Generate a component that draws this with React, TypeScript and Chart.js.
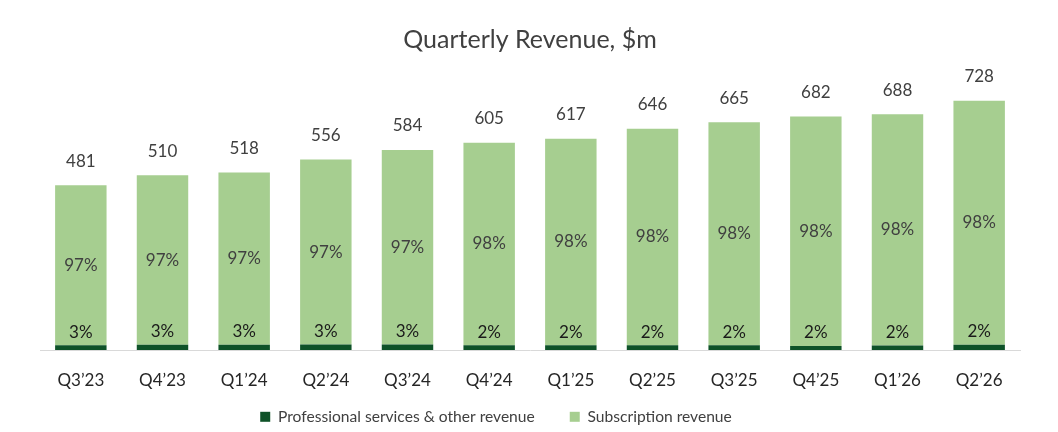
import React, { useEffect, useRef } from "react";
import { Chart, registerables } from "chart.js";

Chart.register(...registerables);

const categories = ["Q3\u201923", "Q4\u201923", "Q1\u201924", "Q2\u201924", "Q3\u201924", "Q4\u201924", "Q1\u201925", "Q2\u201925", "Q3\u201925", "Q4\u201925", "Q1\u201926", "Q2\u201926"];
const totalRevenue = [481, 510, 518, 556, 584, 605, 617, 646, 665, 682, 688, 728];
const professionalServices = [14, 15, 15, 16, 16, 14, 14, 14, 14, 12, 13, 15];
const subscription = totalRevenue.map((t, i) => t - professionalServices[i]);

const FONT = "Lato, 'Open Sans', sans-serif";
const DARK = "#0E5228";
const LIGHT = "#A6CE90";

const labelPlugin = {
  id: "barLabels",
  afterDatasetsDraw(chart: any) {
    const ctx = chart.ctx;
    const psMeta = chart.getDatasetMeta(0);
    const subMeta = chart.getDatasetMeta(1);
    ctx.save();
    ctx.textAlign = "center";
    ctx.textBaseline = "middle";
    categories.forEach((_, i) => {
      const total = totalRevenue[i];
      const ps = psMeta.data[i];
      const sub = subMeta.data[i];
      const psPct = Math.round((professionalServices[i] / total) * 100);
      const subPct = Math.round((subscription[i] / total) * 100);
      ctx.font = `17px ${FONT}`;
      ctx.fillStyle = "#404040";
      ctx.fillText(String(total), sub.x, sub.y - 24);
      ctx.fillText(subPct + "%", sub.x, (sub.y + sub.base) / 2);
      ctx.fillStyle = "#1a1a1a";
      ctx.fillText(psPct + "%", ps.x, ps.y - 13);
    });
    ctx.restore();
  },
};

const layoutTweak = {
  id: "layoutTweak",
  afterLayout(chart: any) {
    const lg = chart.legend;
    if (lg) {
      lg.left -= 34;
      lg.right -= 34;
    }
    const x = chart.scales.x;
    if (x) {
      x.bottom = x.top + 50;
    }
  },
};

export default function App() {
  const ref = useRef<HTMLCanvasElement>(null);
  useEffect(() => {
    document.body.style.margin = "0";
    const chart = new Chart(ref.current!, {
      type: "bar",
      data: {
        labels: categories,
        datasets: [
          {
            label: "Professional services & other revenue",
            data: professionalServices,
            backgroundColor: DARK,
            barPercentage: 0.63,
            categoryPercentage: 1,
          },
          {
            label: "Subscription revenue",
            data: subscription,
            backgroundColor: LIGHT,
            barPercentage: 0.63,
            categoryPercentage: 1,
          },
        ],
      },
      options: {
        responsive: false,
        animation: false,
        layout: { padding: { left: 40, right: 38, top: 0, bottom: 0 } },
        scales: {
          x: {
            stacked: true,
            grid: { display: false, drawTicks: false },
            border: { display: true, color: "#D9D9D9", width: 1 },
            ticks: { color: "#262626", font: { family: FONT, size: 17 }, padding: 20 },
            afterFit: (scale: any) => {
              scale.height = 24;
            },
          },
          y: {
            stacked: true,
            display: false,
            min: 0,
            max: 800,
          },
        },
        plugins: {
          title: {
            display: true,
            text: "Quarterly Revenue, $m",
            color: "#404040",
            font: { family: FONT, size: 25, weight: "normal" },
            padding: { top: 25, bottom: 21 },
          },
          legend: {
            position: "bottom",
            maxHeight: 58,
            labels: {
              color: "#404040",
              font: { family: FONT, size: 15.6 },
              boxWidth: 10,
              boxHeight: 10,
              padding: 35,
            },
          },
          tooltip: { enabled: false },
        },
      },
      plugins: [labelPlugin, layoutTweak],
    });
    return () => chart.destroy();
  }, []);
  return <canvas ref={ref} width={1058} height={432} style={{ display: "block" }} />;
}
